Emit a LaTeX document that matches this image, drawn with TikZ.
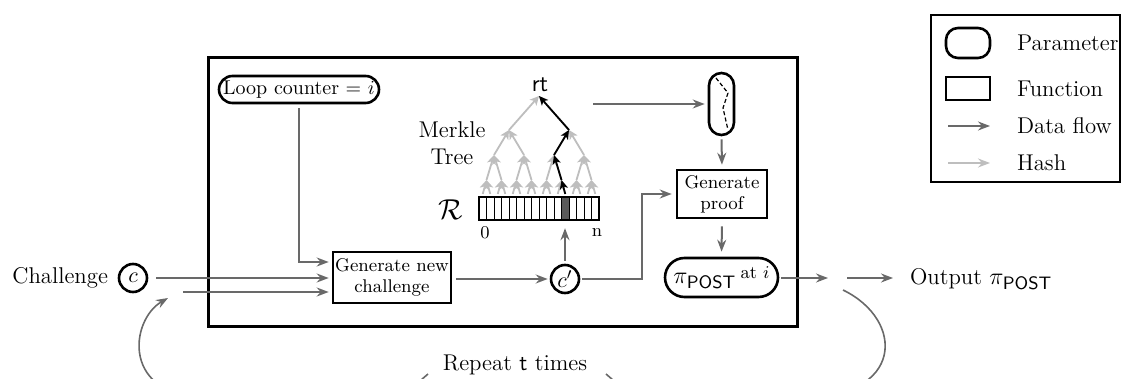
\documentclass[tikz,border=0pt]{standalone}
\usetikzlibrary{arrows.meta,calc}
\definecolor{flowgray}{RGB}{105,105,105}
\definecolor{hashgray}{RGB}{190,190,190}
\definecolor{cellgray}{RGB}{90,90,90}
\begin{document}
\begin{tikzpicture}[x=0.5pt,y=-0.5pt,
  every node/.style={font=\fontsize{11.4}{13.5}\selectfont},
  flow/.style={draw=flowgray,line width=1pt,-{Stealth[length=6pt,width=4.5pt,inset=2pt]}},
  loopline/.style={draw=flowgray,line width=0.8pt},
  hasharrow/.style={draw=hashgray,line width=0.9pt,-{Stealth[length=4.5pt,width=4.5pt,inset=1.2pt]}},
  patharrow/.style={draw=black,line width=0.9pt,-{Stealth[length=4.5pt,width=4pt,inset=1.2pt]}},
  funcbox/.style={draw,line width=1.3pt,align=center,inner sep=0pt,font=\fontsize{9.2}{10.5}\selectfont},
  parbox/.style={draw,line width=1.3pt,inner sep=0pt},
  circ/.style={draw,circle,line width=1.3pt,inner sep=0pt,minimum size=14pt},
]
\useasboundingbox (0,0) rectangle (1123,379);
\clip (0,0) rectangle (1123,379);

% main box and legend box
\node[draw,line width=1.5pt,minimum width=294.5pt,minimum height=134pt,inner sep=0pt] (main) at (502.5,192) {};
\node[draw,line width=1.3pt,minimum width=94.5pt,minimum height=83.5pt,inner sep=0pt] (legend) at (1025.5,98.5) {};

% legend
\node[parbox,rounded corners=6pt,minimum width=22pt,minimum height=15pt] (legpar) at (968,43) {};
\node[parbox,minimum width=22pt,minimum height=11.5pt] (legfun) at (968,88.5) {};
\coordinate (lfa) at (948,126); \coordinate (lfb) at (990,126);
\coordinate (lha) at (948,163); \coordinate (lhb) at (990,163);
\draw[flow] (lfa) -- (lfb);
\draw[draw=hashgray,line width=0.8pt,-{Stealth[length=6pt,width=4.5pt,inset=2pt]}] (lha) -- (lhb);
\node[anchor=west] (tpar) at (1010,43) {Parameter};
\node[anchor=west] (tfun) at (1010,89) {Function};
\node[anchor=west] (tflow) at (1010,126) {Data flow};
\node[anchor=west] (thash) at (1010,163) {Hash};

% nodes
\node[parbox,rounded corners=6.75pt,minimum width=80pt,minimum height=13.5pt,font=\fontsize{10}{12}\selectfont] (loop) at (299,89.5) {Loop counter $=$ $i$};
\node[funcbox,minimum width=59pt,minimum height=25.5pt] (gen) at (392,277.5) {Generate new\\challenge};
\node[funcbox,minimum width=45pt,minimum height=24pt] (proof) at (722,194) {Generate\\proof};
\node[circ] (cc) at (133,278) {$c$};
\node[anchor=east] (chal) at (115,278) {Challenge};
\node[circ] (cp) at (565,279) {$c'$};
\node[parbox,rounded corners=9.75pt,minimum width=56.5pt,minimum height=19.5pt,font=\fontsize{13}{15}\selectfont] (pi) at (721.5,277.5) {$\pi_{\mathsf{POST}}$\,\raisebox{2.5pt}{\fontsize{9}{10}\selectfont at $i$}};
\node[parbox,rounded corners=6.25pt,minimum width=12.5pt,minimum height=31pt] (par) at (721.5,104) {};
\draw[line width=0.6pt,dash pattern=on 2pt off 1.2pt] (716,78) -- (728,93) -- (723,108) -- (728,130);
\node[anchor=west] (out) at (903,279) {Output \fontsize{13}{15}\selectfont$\pi_{\mathsf{POST}}$};
\node (rep) at (515,365) {Repeat \textsf{t} times};

% Merkle tree labels
\node[font=\fontsize{13}{15}\selectfont] (rt) at (540,85) {$\mathsf{rt}$};
\node[align=center,font=\fontsize{11.4}{13.5}\selectfont] (mt) at (452,143) {Merkle\\Tree};
\node[font=\fontsize{15}{17}\selectfont] (R) at (451,210) {$\mathcal{R}$};
\node[font=\fontsize{9}{10}\selectfont] (zero) at (485,233) {0};
\node[font=\fontsize{9}{10}\selectfont] (nn) at (597,233) {n};

% array
\fill[cellgray] (561.5,197) rectangle (569,220);
\foreach \k in {1,...,15} \draw[line width=0.45pt] ({479+7.5*\k},197) -- ({479+7.5*\k},220);
\node[draw,line width=1.2pt,minimum width=60pt,minimum height=11.5pt,inner sep=0pt] (arr) at (539,208.5) {};

% tree coordinates
\foreach \k in {0,...,15} \coordinate (C\k) at ({479+7.5*\k+3.75},194);
\foreach \k in {0,...,7} \coordinate (L\k) at ({486.5+15*\k},180);
\foreach \k in {0,...,3} \coordinate (M\k) at ({494+30*\k},155);
\foreach \k in {0,1} \coordinate (N\k) at ({509+60*\k},130);
\coordinate (T) at (539,96);

\foreach \k in {0,...,15} {\pgfmathtruncatemacro{\p}{int(\k/2)} \draw[hasharrow] (C\k) -- (L\p);}
\foreach \k in {0,...,7} {\pgfmathtruncatemacro{\p}{int(\k/2)} \draw[hasharrow] (L\k) -- (M\p);}
\foreach \k in {0,...,3} {\pgfmathtruncatemacro{\p}{int(\k/2)} \draw[hasharrow] (M\k) -- (N\p);}
\foreach \k in {0,1} \draw[hasharrow] (N\k) -- (T);
\draw[patharrow] (C11) -- (L5);
\draw[patharrow] (L5) -- (M2);
\draw[patharrow] (M2) -- (N1);
\draw[patharrow] (N1) -- (T);

% data flow
\coordinate (rtout) at (593,104);
\draw[flow,shorten >=1.5pt] (rtout) -- (par.west);
\draw[flow,shorten <=1.5pt,shorten >=2pt] (par.south) -- (proof.north);
\draw[flow,shorten <=3.5pt,shorten >=2.5pt] (proof.south) -- (pi.north);
\draw[flow,shorten <=4pt,shorten >=1.5pt] (cc.east) -- (gen.west |- cc.east);
\coordinate (ret) at (183,292);
\draw[flow,shorten >=1.5pt] (ret) -- (gen.west |- ret);
\draw[flow,shorten <=2pt,shorten >=1.5pt] (loop.south) |- ([yshift=7.75pt]gen.west);
\draw[flow,shorten <=2pt,shorten >=1pt] (gen.east |- cp.west) -- (cp.west);
\draw[flow,shorten <=1.5pt,shorten >=3.5pt] (cp.north) -- (cp |- arr.south);
\coordinate (bend) at (642,279);
\draw[flow,shorten <=1pt,shorten >=2pt] (cp.east) -- (bend) |- (proof.west);
\coordinate (o1) at (828,278);
\coordinate (o2) at (847,278);
\draw[flow,shorten <=1pt] (pi.east |- o1) -- (o1);
\draw[flow,shorten >=5pt] (o2) -- (out.west |- o2);

% repeat loop
\coordinate (lpA) at (843,290);
\coordinate (lpB) at (168,298);
\coordinate (repR) at (606,374);
\coordinate (repL) at (428,374);
\draw[loopline] (lpA) .. controls (905,320) and (905,398) .. (800,398) -- (650,398) .. controls (630,398) and (618,384) .. (repR);
\draw[loopline,-{Stealth[length=6pt,width=4.5pt,inset=2pt]}] (repL) .. controls (416,384) and (404,398) .. (380,398) -- (210,398) .. controls (120,398) and (130,320) .. (lpB);
\end{tikzpicture}
\end{document}
